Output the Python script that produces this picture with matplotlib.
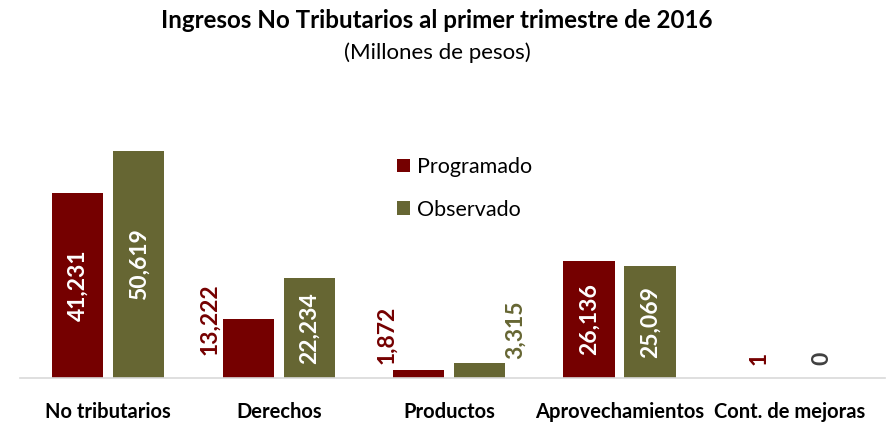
import numpy as np
import matplotlib.pyplot as plt
import matplotlib as mpl

mpl.rcParams['font.family'] = ['Lato', 'DejaVu Sans']

categories = ['No tributarios', 'Derechos', 'Productos', 'Aprovechamientos', 'Cont. de mejoras']
programado = [41231, 13222, 1872, 26136, 1]
observado = [50619, 22234, 3315, 25069, 0]
series_names = ['Programado', 'Observado']

c_prog = '#750000'
c_obs = '#666633'

fig = plt.figure(figsize=(8.96, 4.24), dpi=100)
ax = fig.add_axes([0.022, 0.1085, 0.966, 0.585])

x = np.arange(len(categories))
w = 0.30
off = 0.179
b1 = ax.bar(x - off, programado, w, color=c_prog, label=series_names[0])
b2 = ax.bar(x + off, observado, w, color=c_obs, label=series_names[1])

ax.set_xlim(-0.52, 4.56)
ax.set_ylim(0, 50619 / 227 * 248)

for s in ['top', 'right', 'left']:
    ax.spines[s].set_visible(False)
ax.spines['bottom'].set_color('#d9d9d9')
ax.spines['bottom'].set_linewidth(1.2)
ax.set_yticks([])
ax.set_xticks(x)
ax.set_xticklabels(categories, fontsize=14.5, fontweight='bold')
ax.tick_params(axis='x', length=0, pad=17)

def fmt(v):
    return f'{v:,}'

# etiquetas dentro de las barras grandes
inside = 15000
for bars, vals in [(b1, programado), (b2, observado)]:
    for b, v in zip(bars, vals):
        cx = b.get_x() + b.get_width() / 2
        if v > inside:
            ax.text(cx, v / 2, fmt(v), rotation=90, ha='center', va='center',
                    color='white', fontsize=16.5, fontweight='bold')

# etiquetas de barras pequeñas (desplazamiento en puntos)
small = [
    (b1[1], programado[1], c_prog, (-28, 0), 'center'),
    (b1[2], programado[2], c_prog, (-23, 4), 'bottom'),
    (b2[2], observado[2], c_obs, (26, 3), 'bottom'),
    (b1[4], programado[4], c_prog, (0, 9), 'bottom'),
    (b2[4], observado[4], '#404040', (1, 9), 'bottom'),
]
for b, v, col, dxy, va in small:
    cx = b.get_x() + b.get_width() / 2
    ax.annotate(fmt(v), (cx, v), xytext=dxy, textcoords='offset points',
                rotation=90, ha='center', va=va, color=col,
                fontsize=16.5, fontweight='bold')

ax.legend(loc='upper left', bbox_to_anchor=(0.426, 0.925), frameon=False,
          fontsize=15.5, handlelength=0.6, handleheight=0.6,
          handletextpad=0.35, labelspacing=1.05, borderaxespad=0)

fig.text(0.488, 0.952, 'Ingresos No Tributarios al primer trimestre de 2016',
         ha='center', va='center', fontsize=17.4, fontweight='bold')
fig.text(0.488, 0.875, '(Millones de pesos)', ha='center', va='center', fontsize=16)

fig.savefig('out.png', dpi=100)
